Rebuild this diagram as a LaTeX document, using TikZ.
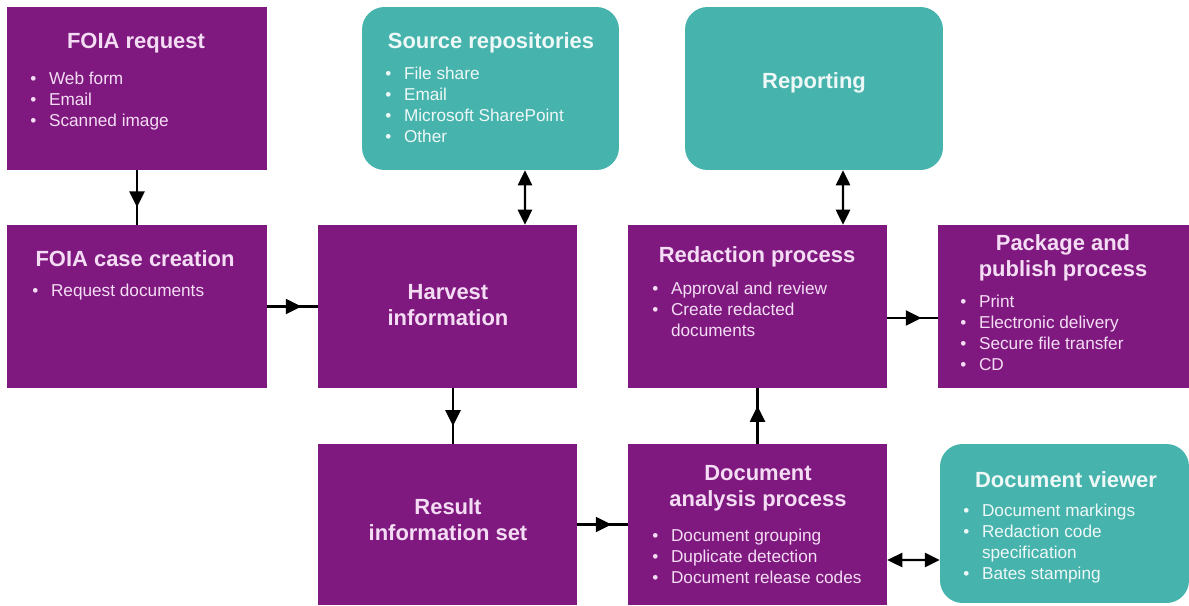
\documentclass[tikz,border=0pt]{standalone}
\usepackage{fontspec}
\setmainfont{Liberation Sans}
\usetikzlibrary{arrows.meta,decorations.markings}
\definecolor{foiapurple}{HTML}{7F197F}
\definecolor{foiateal}{HTML}{47B3AD}
\definecolor{pinktext}{HTML}{F4DDF4}
\definecolor{tealtext}{HTML}{EEF8F7}
\newcommand{\bitems}[1]{\begin{tabular}[t]{@{}l@{\hspace{7.2pt}}l@{}}#1\end{tabular}}
\newcommand{\bi}{\textbullet &}
\begin{document}
\begin{tikzpicture}[x=0.02cm, y=-0.02cm,
    procbox/.style={fill=foiapurple, inner sep=0pt},
    toolbox/.style={fill=foiateal, inner sep=0pt, rounded corners=0.45cm},
    head/.style={font=\fontsize{12.5}{14.7}\selectfont\bfseries, align=center, inner sep=0pt, text=pinktext},
    items/.style={font=\fontsize{9.8}{12}\selectfont, anchor=base west, inner sep=0pt, text=pinktext},
    flow/.style={line width=1.4pt, postaction={decorate},
        decoration={markings, mark=at position 0.68 with {\arrow{Triangle[length=9pt,width=8.5pt]}}}},
    both/.style={line width=1.4pt, {Triangle[length=8.5pt,width=8pt]}-{Triangle[length=8.5pt,width=8pt]}}]
    \fill[white] (0,0) rectangle (1189,605);
    \useasboundingbox (0,0) rectangle (1189,605);

    % Boxes
    \node[procbox, minimum width=5.2cm, minimum height=3.26cm] (foiareq) at (137,88.5) {};
    \node[procbox, minimum width=5.2cm, minimum height=3.26cm] (casecreate) at (137,306.5) {};
    \node[procbox, minimum width=5.18cm, minimum height=3.26cm] (harvest) at (447.5,306.5) {};
    \node[procbox, minimum width=5.18cm, minimum height=3.22cm] (result) at (447.5,524.5) {};
    \node[toolbox, minimum width=5.14cm, minimum height=3.26cm] (sources) at (490.5,88.5) {};
    \node[toolbox, minimum width=5.16cm, minimum height=3.26cm] (reporting) at (814,88.5) {};
    \node[procbox, minimum width=5.18cm, minimum height=3.26cm] (redaction) at (757.5,306.5) {};
    \node[procbox, minimum width=5.02cm, minimum height=3.26cm] (package) at (1063.5,306.5) {};
    \node[procbox, minimum width=5.18cm, minimum height=3.22cm] (analysis) at (757.5,524.5) {};
    \node[toolbox, minimum width=4.98cm, minimum height=3.18cm] (viewer) at (1064.5,523.5) {};

    % Headings
    \node[head] (foiareqhead) at (136,43) {FOIA request};
    \node[head, text=tealtext] (sourceshead) at (491,43) {Source repositories};
    \node[head, text=tealtext] (reportinghead) at (814,83) {Reporting};
    \node[head] (casecreatehead) at (135,259) {FOIA case creation};
    \node[head] (harvesthead) at (448,305) {Harvest\\information};
    \node[head] (resulthead) at (448,520) {Result\\information set};
    \node[head] (redactionhead) at (757,257) {Redaction process};
    \node[head] (packagehead) at (1063,258) {Package and\\publish process};
    \node[head] (analysishead) at (758,488) {Document\\analysis process};
    \node[head, text=tealtext] (viewerhead) at (1066,480) {Document viewer};

    % Bullet lists
    \node[items] (foiareqlist) at (30,84.5) {\bitems{\bi Web form\\ \bi Email\\ \bi Scanned image}};
    \node[items, text=tealtext] (sourceslist) at (385,79.5) {\bitems{\bi File share\\ \bi Email\\ \bi Microsoft SharePoint\\ \bi Other}};
    \node[items] (casecreatelist) at (32,296.5) {\bitems{\bi Request documents}};
    \node[items] (redactionlist) at (652,294.5) {\bitems{\bi Approval and review\\ \bi Create redacted\\ & documents}};
    \node[items] (packagelist) at (960,307.5) {\bitems{\bi Print\\ \bi Electronic delivery\\ \bi Secure file transfer\\ \bi CD}};
    \node[items] (analysislist) at (652,541.5) {\bitems{\bi Document grouping\\ \bi Duplicate detection\\ \bi Document release codes}};
    \node[items, text=tealtext] (viewerlist) at (963,516.5) {\bitems{\bi Document markings\\ \bi Redaction code\\ & specification\\ \bi Bates stamping}};

    % Connectors
    \draw[flow] (foiareq.south) -- (casecreate.north);
    \draw[flow] (casecreate.east) -- (harvest.west);
    \draw[flow] ([xshift=0.11cm]harvest.south) -- ([xshift=0.11cm]result.north);
    \draw[flow] (result.east) -- (analysis.west);
    \draw[flow] (analysis.north) -- (redaction.south);
    \draw[flow] ([yshift=-0.23cm]redaction.east) -- ([yshift=-0.23cm]package.west);
    \draw[both] ([xshift=0.69cm]sources.south) -- ([xshift=1.55cm]harvest.north);
    \draw[both] ([xshift=0.58cm]reporting.south) -- ([xshift=1.71cm]redaction.north);
    \draw[both] ([yshift=-0.71cm]analysis.east) -- ([yshift=-0.73cm]viewer.west);
\end{tikzpicture}
\end{document}
